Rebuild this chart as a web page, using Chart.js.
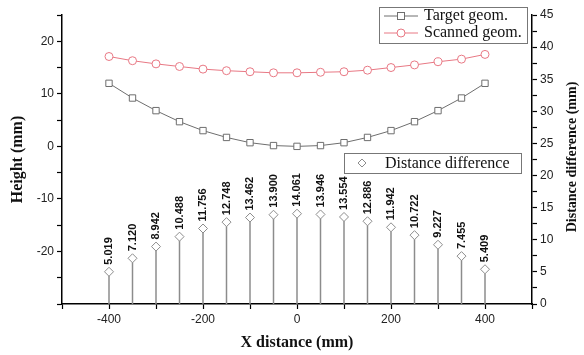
<!DOCTYPE html>
<html>
<head>
<meta charset="utf-8">
<script src="https://cdn.jsdelivr.net/npm/chart.js@4.4.1/dist/chart.umd.min.js"></script>
<style>
  html, body { margin: 0; padding: 0; background: #fff; }
  #wrap { width: 584px; height: 355px; }
</style>
</head>
<body>
<div id="wrap"><canvas id="geomChart" width="584" height="355"></canvas></div>
<script>
// x positions along the surface (mm)
const xPositions = [-400, -350, -300, -250, -200, -150, -100, -50, 0, 50, 100, 150, 200, 250, 300, 350, 400];
// heights (mm), left axis
const targetHeights = [12.0, 9.2, 6.8, 4.7, 3.0, 1.7, 0.7, 0.15, 0.0, 0.15, 0.7, 1.7, 3.0, 4.7, 6.8, 9.2, 12.0];
const scannedHeights = [17.1, 16.3, 15.7, 15.2, 14.7, 14.4, 14.2, 14.0, 14.0, 14.1, 14.2, 14.5, 15.0, 15.5, 16.1, 16.6, 17.5];
// distance difference (mm), right axis
const distanceDiffs = [5.019, 7.120, 8.942, 10.488, 11.756, 12.748, 13.462, 13.900, 14.061, 13.946, 13.554, 12.886, 11.942, 10.722, 9.227, 7.455, 5.409];

const tickFont = { family: "'Liberation Sans', Arial, sans-serif", size: 12 };
const titleFont = { family: "'Liberation Serif', 'Times New Roman', serif", size: 16, weight: 'bold' };
const targetColor = 'rgb(110,110,110)';
const scannedColor = 'rgb(232,120,132)';
const diffColor = 'rgb(140,140,140)';

const toXY = (vals) => vals.map((v, i) => ({ x: xPositions[i], y: v }));

// vertical drop lines under the diamonds + value labels
const stemPlugin = {
  id: 'stems',
  beforeDatasetsDraw(chart) {
    const ctx = chart.ctx;
    const xs = chart.scales.x, ys = chart.scales.y2;
    ctx.save();
    ctx.strokeStyle = diffColor;
    ctx.lineWidth = 1.5;
    distanceDiffs.forEach((d, i) => {
      const px = xs.getPixelForValue(xPositions[i]);
      ctx.beginPath();
      ctx.moveTo(px, ys.getPixelForValue(0));
      ctx.lineTo(px, ys.getPixelForValue(d) + 4);
      ctx.stroke();
    });
    ctx.restore();
  },
  afterDatasetsDraw(chart) {
    const ctx = chart.ctx;
    const meta = chart.getDatasetMeta(2);
    ctx.save();
    ctx.fillStyle = '#111';
    ctx.font = "bold 11px 'Liberation Sans', Arial, sans-serif";
    ctx.textAlign = 'left';
    ctx.textBaseline = 'middle';
    meta.data.forEach((pt, i) => {
      ctx.save();
      ctx.translate(pt.x, pt.y - 7);
      ctx.rotate(-Math.PI / 2);
      ctx.fillText(distanceDiffs[i].toFixed(3), 0, 0);
      ctx.restore();
    });
    ctx.restore();
  }
};

// the two boxed legends and the right-hand axis title (reads bottom to top)
const legendPlugin = {
  id: 'boxLegends',
  afterDraw(chart) {
    const ctx = chart.ctx;
    ctx.save();
    ctx.strokeStyle = '#777';
    ctx.lineWidth = 1;
    ctx.fillStyle = '#fff';
    ctx.fillRect(379.5, 7.5, 148, 36);
    ctx.strokeRect(379.5, 7.5, 148, 36);
    ctx.fillRect(344.5, 153.5, 177, 20);
    ctx.strokeRect(344.5, 153.5, 177, 20);

    ctx.font = "16px 'Liberation Serif', 'Times New Roman', serif";
    ctx.textBaseline = 'middle';
    ctx.fillStyle = '#111';

    // Target geom.
    ctx.strokeStyle = targetColor;
    ctx.beginPath(); ctx.moveTo(384, 16); ctx.lineTo(418, 16); ctx.stroke();
    ctx.fillStyle = '#fff';
    ctx.fillRect(397.5, 12.5, 7, 7); ctx.strokeRect(397.5, 12.5, 7, 7);
    ctx.fillStyle = '#111';
    ctx.fillText('Target geom.', 424, 16);

    // Scanned geom.
    ctx.strokeStyle = scannedColor;
    ctx.beginPath(); ctx.moveTo(384, 33); ctx.lineTo(418, 33); ctx.stroke();
    ctx.fillStyle = '#fff';
    ctx.beginPath(); ctx.arc(401, 33, 4, 0, Math.PI * 2); ctx.fill(); ctx.stroke();
    ctx.fillStyle = '#111';
    ctx.fillText('Scanned geom.', 424, 33);

    // Distance difference
    ctx.strokeStyle = diffColor;
    ctx.fillStyle = '#fff';
    ctx.beginPath();
    ctx.moveTo(362, 159); ctx.lineTo(366, 163); ctx.lineTo(362, 167); ctx.lineTo(358, 163); ctx.closePath();
    ctx.fill(); ctx.stroke();
    ctx.fillStyle = '#111';
    ctx.fillText('Distance difference', 385, 164);

    // right axis title
    ctx.save();
    ctx.translate(572, 157);
    ctx.rotate(-Math.PI / 2);
    ctx.textAlign = 'center';
    ctx.font = "bold 14px 'Liberation Serif', 'Times New Roman', serif";
    ctx.fillText('Distance difference (mm)', 0, 0);
    ctx.restore();
    ctx.restore();
  }
};

const axisGrid = { display: true, drawOnChartArea: false, drawTicks: true, tickLength: 5, tickColor: '#000', tickWidth: 1.2 };
const axisBorder = { display: true, color: '#000', width: 1.5 };

new Chart(document.getElementById('geomChart'), {
  type: 'scatter',
  data: {
    datasets: [
      {
        label: 'Target geom.',
        data: toXY(targetHeights),
        showLine: true,
        borderColor: targetColor,
        borderWidth: 1,
        pointStyle: 'rect',
        pointRadius: 4.5,
        pointBackgroundColor: '#fff',
        pointBorderColor: targetColor,
        pointBorderWidth: 1,
        yAxisID: 'y'
      },
      {
        label: 'Scanned geom.',
        data: toXY(scannedHeights),
        showLine: true,
        borderColor: scannedColor,
        borderWidth: 1,
        pointStyle: 'circle',
        pointRadius: 4,
        pointBackgroundColor: '#fff',
        pointBorderColor: scannedColor,
        pointBorderWidth: 1,
        yAxisID: 'y'
      },
      {
        label: 'Distance difference',
        data: toXY(distanceDiffs),
        showLine: false,
        pointStyle: 'rectRot',
        pointRadius: 4.5,
        pointBackgroundColor: '#fff',
        pointBorderColor: diffColor,
        pointBorderWidth: 1,
        yAxisID: 'y2'
      }
    ]
  },
  options: {
    responsive: false,
    animation: false,
    layout: { padding: { top: 15, left: 0, right: 0, bottom: 0 } },
    plugins: { legend: { display: false }, tooltip: { enabled: false } },
    scales: {
      x: {
        type: 'linear',
        min: -500, max: 500,
        afterFit: (s) => { s.height = 51; },
        grid: axisGrid,
        border: axisBorder,
        ticks: {
          stepSize: 100,
          autoSkip: false,
          maxRotation: 0,
          padding: 3,
          color: '#222',
          font: tickFont,
          callback: (v) => (v % 200 === 0 && Math.abs(v) < 500) ? v : ''
        },
        title: { display: true, text: 'X distance (mm)', color: '#111', font: titleFont, padding: { top: 0, bottom: 3 } }
      },
      y: {
        position: 'left',
        min: -30, max: 25,
        afterFit: (s) => { s.width = 62; },
        grid: axisGrid,
        border: axisBorder,
        ticks: {
          stepSize: 5,
          autoSkip: false,
          padding: 3,
          color: '#222',
          font: tickFont,
          callback: (v) => (v % 10 === 0 && v > -30) ? v : ''
        },
        title: { display: true, text: 'Height (mm)', color: '#111', font: titleFont, padding: { top: 8, bottom: 0 } }
      },
      y2: {
        position: 'right',
        min: 0, max: 45,
        afterFit: (s) => { s.width = 52; },
        grid: axisGrid,
        border: axisBorder,
        ticks: {
          stepSize: 2.5,
          autoSkip: false,
          padding: 3,
          color: '#222',
          font: tickFont,
          callback: (v) => (v % 5 === 0) ? v : ''
        }
      }
    }
  },
  plugins: [stemPlugin, legendPlugin]
});
</script>
</body>
</html>
